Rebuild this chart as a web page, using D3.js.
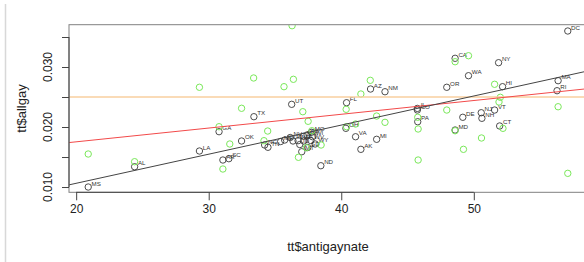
<!DOCTYPE html>
<html>
<head>
<meta charset="utf-8">
<script src="https://cdnjs.cloudflare.com/ajax/libs/d3/7.8.5/d3.min.js"></script>
<style>
body { margin: 0; background: #fff; }
svg { display: block; }
text { font-family: "Liberation Sans", Arial, sans-serif; }
</style>
</head>
<body>
<svg></svg>
<script>
'use strict';

// labelled points (black)
const states = ['MS','AL','LA','GA','AR','SC','OK','TX','NC','TN','ME','KY','NV','IN','NE','ID','MT','IA','MN','SD','KS','WV','MO','WI','WY','ND',
	'UT','OH','FL','VA','AK','AZ','MI','NM','IL','CO','PA','OR','CA','MD','DE','WA','NJ','NH','VT','NY','CT','HI','RI','MA','DC'];
const antigay = [20.91,24.41,29.30,30.78,31.07,31.52,32.48,33.41,34.22,34.47,35.43,35.73,36.15,36.36,36.74,36.87,37.02,37.17,37.15,37.47,37.42,37.70,37.75,37.83,38.03,38.46,
	36.26,40.35,40.40,41.08,41.48,42.21,42.67,43.30,45.74,45.74,45.77,47.96,48.59,48.59,49.17,49.60,50.56,50.61,51.57,51.87,51.95,52.17,56.28,56.36,57.09];
const allgay = [0.0100,0.01338,0.0160,0.01922,0.0145,0.01472,0.01767,0.02172,0.0170,0.01662,0.01758,0.01783,0.01825,0.01767,0.01772,0.01708,0.01588,0.01767,0.01845,0.01658,0.01867,0.01775,0.01912,0.01838,0.01717,0.01355,
	0.02378,0.01978,0.02405,0.01838,0.01628,0.02633,0.01795,0.02588,0.02310,0.02283,0.02088,0.02662,0.03145,0.0195,0.02162,0.02855,0.02238,0.02145,0.02283,0.03072,0.02017,0.02672,0.02605,0.02772,0.0360];

// second series (green, no labels)
const greenX = [20.91,24.41,29.30,33.39,35.68,36.39,36.29,42.19,41.48,32.48,37.10,37.50,40.37,42.67,30.78,31.59,31.07,34.45,34.17,37.78,37.37,36.77,38.48,40.40,41.08,
	43.30,45.77,45.80,45.80,47.96,48.59,48.59,49.22,49.60,51.57,52.00,51.90,52.20,50.58,56.36,57.09];
const greenY = [0.0155,0.01422,0.02662,0.02817,0.02672,0.02795,0.03688,0.02778,0.0255,0.02312,0.02255,0.02095,0.02295,0.02183,0.02005,0.01717,0.0130,0.01933,0.01772,0.01938,0.01655,0.01495,0.0170,0.02005,0.0205,
	0.02078,0.02162,0.01967,0.0145,0.02283,0.03088,0.01938,0.01628,0.03188,0.02712,0.02495,0.02417,0.01978,0.01817,0.02338,0.01228];

// fitted lines: [intercept, slope]
const fitBlack = [0.00092, 0.000485];
const fitRed = [0.01294, 0.0002295];
const refLevel = 0.025;

const xLim = [19.46, 58.54];
const yLim = [0.00912, 0.03705];
const xTicks = [20, 30, 40, 50];
const yTicks = [0.010, 0.015, 0.020, 0.025, 0.030, 0.035];
const yTickLabels = [0.010, 0.020, 0.030];

const W = 584, H = 262;
const box = { left: 69, right: 587, top: 24.7, bottom: 192.3 };

const svg = d3.select('svg')
	.attr('width', W)
	.attr('height', H);

const x = d3.scaleLinear().domain(xLim).range([box.left, box.right]);
const y = d3.scaleLinear().domain(yLim).range([box.bottom, box.top]);

// panel edge on the far left
svg.append('line')
	.attr('x1', 5.5).attr('x2', 5.5)
	.attr('y1', 4).attr('y2', H)
	.attr('stroke', '#d8d8d8')
	.attr('stroke-width', 1.5);

svg.append('clipPath').attr('id', 'plotclip')
	.append('rect')
	.attr('x', box.left).attr('y', box.top)
	.attr('width', box.right - box.left).attr('height', box.bottom - box.top);

const plot = svg.append('g').attr('clip-path', 'url(#plotclip)');

// black points + labels
const pts = states.map((s, i) => ({ s: s, x: antigay[i], y: allgay[i] }));

plot.selectAll('circle.blk')
	.data(pts)
	.enter().append('circle')
	.attr('class', 'blk')
	.attr('cx', d => x(d.x))
	.attr('cy', d => y(d.y))
	.attr('r', 3.2)
	.attr('fill', 'none')
	.attr('stroke', '#3a3a3a')
	.attr('stroke-width', 0.9);

plot.selectAll('text.lbl')
	.data(pts)
	.enter().append('text')
	.attr('class', 'lbl')
	.attr('x', d => x(d.x) + 3.3)
	.attr('y', d => y(d.y) - 1.5)
	.attr('font-size', 6.2)
	.attr('fill', '#333')
	.text(d => d.s);

// green points
plot.selectAll('circle.grn')
	.data(greenX.map((v, i) => [v, greenY[i]]))
	.enter().append('circle')
	.attr('class', 'grn')
	.attr('cx', d => x(d[0]))
	.attr('cy', d => y(d[1]))
	.attr('r', 3.2)
	.attr('fill', 'none')
	.attr('stroke', '#7ae85a')
	.attr('stroke-width', 1);

// lines
const abline = (coef, color, width) => {
	plot.append('line')
		.attr('x1', x(xLim[0])).attr('y1', y(coef[0] + coef[1] * xLim[0]))
		.attr('x2', x(xLim[1])).attr('y2', y(coef[0] + coef[1] * xLim[1]))
		.attr('stroke', color)
		.attr('stroke-width', width);
};

plot.append('line')
	.attr('x1', box.left).attr('x2', box.right)
	.attr('y1', y(refLevel)).attr('y2', y(refLevel))
	.attr('stroke', '#f9cf9f')
	.attr('stroke-width', 1.3);

abline(fitRed, '#f24a4a', 1);
abline(fitBlack, '#444', 1);

// box
svg.append('rect')
	.attr('x', box.left).attr('y', box.top)
	.attr('width', box.right - box.left).attr('height', box.bottom - box.top)
	.attr('fill', 'none')
	.attr('stroke', '#808080')
	.attr('stroke-width', 1);

// x axis
const xAxis = svg.append('g')
	.attr('transform', `translate(0, ${box.bottom})`)
	.call(d3.axisBottom(x).tickValues(xTicks).tickSize(8).tickPadding(4).tickFormat(d3.format('d')));
xAxis.select('.domain').attr('stroke', '#444').attr('d', `M${x(xTicks[0])},0H${x(xTicks[xTicks.length - 1])}`);
xAxis.selectAll('.tick line').attr('stroke', '#444');
xAxis.selectAll('.tick text')
	.attr('font-size', 12)
	.attr('font-family', '"Liberation Sans", Arial, sans-serif')
	.attr('fill', '#222');

// y axis
const yAxis = svg.append('g')
	.attr('transform', `translate(${box.left}, 0)`)
	.call(d3.axisLeft(y).tickValues(yTicks).tickSize(7).tickFormat(''));
yAxis.select('.domain').attr('stroke', '#444').attr('d', `M0,${y(yTicks[0])}V${y(yTicks[yTicks.length - 1])}`);
yAxis.selectAll('.tick line').attr('stroke', '#444');

svg.selectAll('text.ytl')
	.data(yTickLabels)
	.enter().append('text')
	.attr('class', 'ytl')
	.attr('transform', d => `translate(52, ${y(d)}) rotate(-90)`)
	.attr('text-anchor', 'middle')
	.attr('font-size', 12)
	.attr('fill', '#222')
	.text(d3.format('.3f'));

// axis titles
svg.append('text')
	.attr('x', (box.left + box.right) / 2)
	.attr('y', 251)
	.attr('text-anchor', 'middle')
	.attr('font-size', 13)
	.attr('fill', '#222')
	.text('tt$antigaynate');

svg.append('text')
	.attr('transform', `translate(25.5, ${(box.top + box.bottom) / 2}) rotate(-90)`)
	.attr('text-anchor', 'middle')
	.attr('font-size', 13)
	.attr('fill', '#222')
	.text('tt$allgay');
</script>
</body>
</html>
